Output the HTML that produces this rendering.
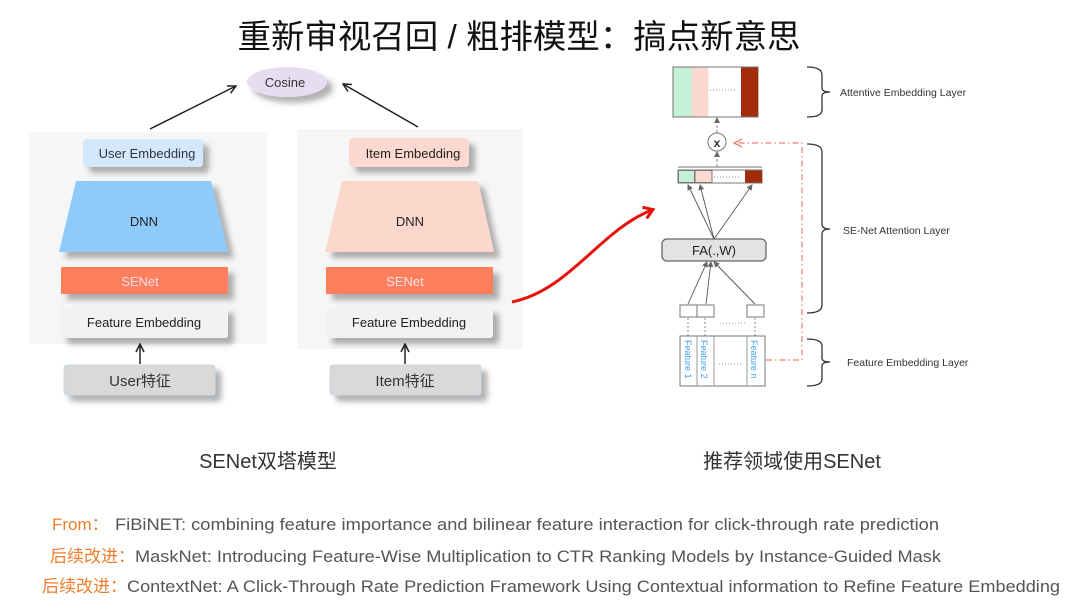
<!DOCTYPE html>
<html><head><meta charset="utf-8"><style>
html,body{margin:0;padding:0;background:#fff;}
svg{display:block;font-family:"Liberation Sans","Noto Sans CJK SC",sans-serif;}
</style></head><body>
<svg width="1080" height="608" viewBox="0 0 1080 608" xmlns="http://www.w3.org/2000/svg">
<defs>
<filter id="sh" x="-20%" y="-30%" width="150%" height="180%"><feDropShadow dx="6" dy="6" stdDeviation="3" flood-color="#000" flood-opacity="0.3"/></filter>
<marker id="ah" markerWidth="10" markerHeight="10" refX="9" refY="5" orient="auto" markerUnits="userSpaceOnUse"><path d="M1,1 L9,5 L1,9" fill="none" stroke="#222" stroke-width="1.5"/></marker>
<marker id="as" markerWidth="6" markerHeight="6" refX="5" refY="3" orient="auto" markerUnits="userSpaceOnUse"><path d="M0,0 L6,3 L0,6z" fill="#666"/></marker>
<marker id="ao" markerWidth="10" markerHeight="10" refX="9" refY="5" orient="auto" markerUnits="userSpaceOnUse"><path d="M1,1 L9,5 L1,9" fill="none" stroke="#f08070" stroke-width="1.3"/></marker>
<marker id="ar" markerWidth="14" markerHeight="14" refX="10" refY="7" orient="auto" markerUnits="userSpaceOnUse"><path d="M2,1 L11,7 L2,13" fill="none" stroke="#e8120c" stroke-width="3"/></marker>
</defs>

<text x="519" y="48" font-size="33" text-anchor="middle" fill="#111" textLength="563" lengthAdjust="spacingAndGlyphs">重新审视召回 / 粗排模型：搞点新意思</text>

<rect x="29" y="132" width="238" height="212" fill="#f6f6f6"/>
<rect x="297" y="129" width="226" height="220" fill="#f6f6f6"/>

<ellipse cx="287" cy="82" rx="40" ry="15" fill="#e6ddf3" filter="url(#sh)"/>
<text x="285" y="87" font-size="13" text-anchor="middle" fill="#333">Cosine</text>
<line x1="150" y1="129" x2="236" y2="86" stroke="#222" stroke-width="1.5" marker-end="url(#ah)"/>
<line x1="418" y1="127" x2="343" y2="84" stroke="#222" stroke-width="1.5" marker-end="url(#ah)"/>

<g filter="url(#sh)">
<rect x="83" y="139" width="120" height="28" rx="4" fill="#d3e8fb"/>
<polygon points="76,181 211,181 228,252 59,252" fill="#8ecbfa"/>
<rect x="61" y="267" width="167" height="27" fill="#fd7f5c"/>
<rect x="61" y="307" width="167" height="31" rx="3" fill="#f2f2f2"/>
<rect x="64" y="365" width="151" height="30" rx="3" fill="#d9d9d9" stroke="#c8d8e8"/>
<rect x="349" y="138" width="120" height="29" rx="4" fill="#fcd9d0"/>
<polygon points="342,181 478,181 494,252 325,252" fill="#fcd7cb"/>
<rect x="326" y="267" width="167" height="27" fill="#fd7f5c"/>
<rect x="326" y="307" width="167" height="31" rx="3" fill="#f2f2f2"/>
<rect x="330" y="365" width="151" height="30" rx="3" fill="#d9d9d9" stroke="#c8d8e8"/>
</g>
<g font-size="13" text-anchor="middle" fill="#222">
<text x="147" y="158" fill="#334">User Embedding</text>
<text x="144" y="226">DNN</text>
<text x="140" y="286" fill="#fde">SENet</text>
<text x="144" y="327">Feature Embedding</text>
<text x="140" y="386" font-size="15" fill="#333">User特征</text>
<text x="413" y="158">Item Embedding</text>
<text x="410" y="226">DNN</text>
<text x="405" y="286" fill="#fde">SENet</text>
<text x="409" y="327">Feature Embedding</text>
<text x="405" y="386" font-size="15" fill="#333">Item特征</text>
</g>
<line x1="140" y1="364" x2="140" y2="344" stroke="#222" stroke-width="1.5" marker-end="url(#ah)"/>
<line x1="405" y1="364" x2="405" y2="344" stroke="#222" stroke-width="1.5" marker-end="url(#ah)"/>

<path d="M512,302 C570,290 600,230 652,210" fill="none" stroke="#e8120c" stroke-width="3" marker-end="url(#ar)"/>

<rect x="673" y="67" width="85" height="50" fill="#fff" stroke="#777"/>
<rect x="673.5" y="67.5" width="18" height="49" fill="#c3f2d6"/>
<rect x="691.5" y="67.5" width="17" height="49" fill="#fcd9d0"/>
<rect x="741" y="67.5" width="17" height="49" fill="#a32b0a"/>
<line x1="710" y1="90" x2="737" y2="90" stroke="#999" stroke-dasharray="1,2"/>
<line x1="717" y1="133" x2="717" y2="118" stroke="#888" stroke-dasharray="3,2" marker-end="url(#as)"/>
<circle cx="717" cy="142" r="9" fill="#fff" stroke="#777"/>
<text x="717" y="147" font-size="12" font-weight="bold" text-anchor="middle" fill="#333">x</text>
<line x1="717" y1="167" x2="717" y2="152" stroke="#888" stroke-dasharray="3,2" marker-end="url(#as)"/>
<line x1="678" y1="167" x2="762" y2="167" stroke="#777"/>
<rect x="678" y="170" width="84" height="13" fill="#fff" stroke="#777"/>
<rect x="678.5" y="170.5" width="16" height="12" fill="#c3f2d6" stroke="#777"/>
<rect x="695" y="170.5" width="17" height="12" fill="#fcd9d0" stroke="#777"/>
<rect x="745" y="170.5" width="17" height="12" fill="#a32b0a"/>
<line x1="714" y1="177" x2="740" y2="177" stroke="#999" stroke-dasharray="1,2"/>
<g stroke="#555" stroke-width="0.9">
<line x1="714" y1="239" x2="688" y2="185" marker-end="url(#as)"/>
<line x1="714" y1="239" x2="700" y2="185" marker-end="url(#as)"/>
<line x1="714" y1="239" x2="752" y2="185" marker-end="url(#as)"/>
<line x1="688" y1="304" x2="707" y2="262" marker-end="url(#as)"/>
<line x1="706" y1="304" x2="711" y2="262" marker-end="url(#as)"/>
<line x1="755" y1="304" x2="714" y2="262" marker-end="url(#as)"/>
</g>
<rect x="662" y="239" width="104" height="22" rx="5" fill="#e3e3e3" stroke="#666" stroke-width="1.3"/>
<text x="714" y="255" font-size="13" text-anchor="middle" fill="#222">FA(.,W)</text>
<rect x="680" y="305" width="17" height="12" fill="#fff" stroke="#777"/>
<rect x="697" y="305" width="17" height="12" fill="#fff" stroke="#777"/>
<rect x="747" y="305" width="17" height="12" fill="#fff" stroke="#777"/>
<line x1="720" y1="323" x2="745" y2="323" stroke="#999" stroke-dasharray="1,2"/>
<g stroke="#888" stroke-dasharray="2,2"><line x1="688" y1="336" x2="688" y2="318"/><line x1="705" y1="336" x2="705" y2="318"/><line x1="755" y1="336" x2="755" y2="318"/></g>
<rect x="680" y="336" width="85" height="50" fill="#fff" stroke="#777"/>
<line x1="697" y1="336" x2="697" y2="386" stroke="#999"/>
<line x1="714" y1="336" x2="714" y2="386" stroke="#999"/>
<line x1="747" y1="336" x2="747" y2="386" stroke="#999"/>
<line x1="719" y1="364" x2="742" y2="364" stroke="#999" stroke-dasharray="1,2"/>
<g font-size="9" fill="#3aa0f0">
<text transform="translate(685,340) rotate(90)">Feature 1</text>
<text transform="translate(701,340) rotate(90)">Feature 2</text>
<text transform="translate(751,340) rotate(90)">Feature n</text>
</g>
<path d="M766,360 H802 V143 H734" fill="none" stroke="#f08070" stroke-width="1.2" stroke-dasharray="6,3,1.5,3" marker-end="url(#ao)"/>
<g fill="none" stroke="#333" stroke-width="1.3">
<path d="M807,67 Q822,67 822,75 V88 Q822,92 830,92 Q822,92 822,96 V110 Q822,117 807,117"/>
<path d="M807,144 Q822,144 822,152 V224 Q822,229 830,229 Q822,229 822,234 V305 Q822,313 807,313"/>
<path d="M807,339 Q822,339 822,346 V358 Q822,362 830,362 Q822,362 822,366 V379 Q822,386 807,386"/>
</g>
<g font-size="10.5" fill="#333">
<text x="840" y="96">Attentive Embedding Layer</text>
<text x="843" y="234">SE-Net Attention Layer</text>
<text x="847" y="366">Feature Embedding Layer</text>
</g>

<text x="268" y="468" font-size="20" text-anchor="middle" fill="#333">SENet双塔模型</text>
<text x="792" y="468" font-size="20" text-anchor="middle" fill="#333">推荐领域使用SENet</text>

<g font-size="17" fill="#555">
<text x="52" y="530" fill="#f07d2c">From：</text>
<text x="115" y="530" textLength="824" lengthAdjust="spacingAndGlyphs">FiBiNET: combining feature importance and bilinear feature interaction for click-through rate prediction</text>
<text x="50" y="562" fill="#f07d2c">后续改进：</text>
<text x="135" y="562" textLength="806" lengthAdjust="spacingAndGlyphs">MaskNet: Introducing Feature-Wise Multiplication to CTR Ranking Models by Instance-Guided Mask</text>
<text x="42" y="592" fill="#f07d2c">后续改进：</text>
<text x="127" y="592" textLength="933" lengthAdjust="spacingAndGlyphs">ContextNet: A Click-Through Rate Prediction Framework Using Contextual information to Refine Feature Embedding</text>
</g>
</svg>
</body></html>
